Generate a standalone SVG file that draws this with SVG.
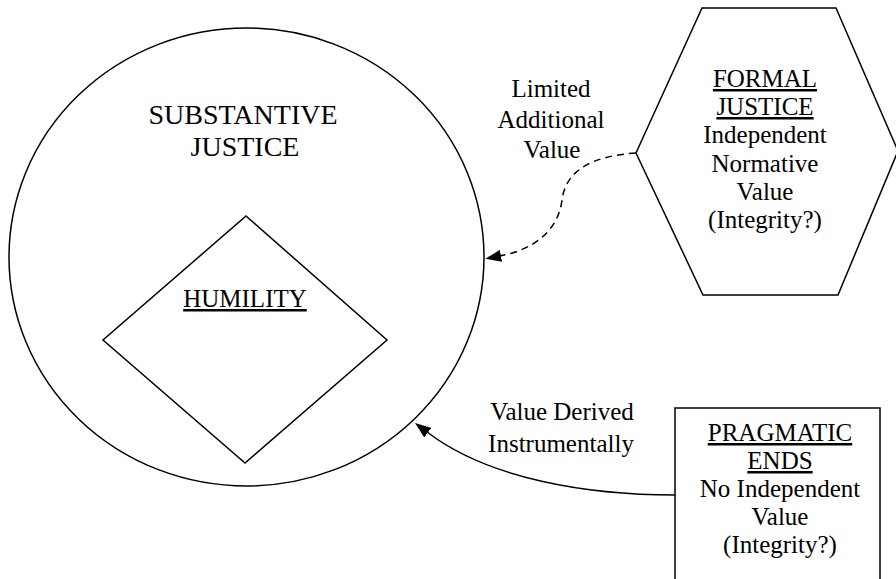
<svg xmlns="http://www.w3.org/2000/svg" width="896" height="579" viewBox="0 0 896 579">
  <style>
    .shape { fill: none; stroke: #000; stroke-width: 1.5; }
    .conn { fill: none; stroke: #000; stroke-width: 1.5; }
    .dash { stroke-dasharray: 7 5; }
    text { font-family: "Liberation Serif", "Times New Roman", serif; fill: #000; text-anchor: middle; }
    .big { font-size: 28px; }
    .lbl { font-size: 25px; }
    .u { text-decoration: underline; }
  </style>
  <defs>
    <marker id="arrow" viewBox="0 0 16 12" refX="1" refY="6" markerWidth="16" markerHeight="12" markerUnits="userSpaceOnUse" orient="auto">
      <path d="M0,0 L16,6 L0,12 z" fill="#000"/>
    </marker>
  </defs>
  <rect width="896" height="579" fill="#fff"/>

  <g id="substantive-justice">
    <ellipse class="shape" cx="246.5" cy="257" rx="237.5" ry="229"/>
    <text class="big" x="243" y="124">SUBSTANTIVE</text>
    <text class="big" x="245" y="156">JUSTICE</text>
  </g>

  <g id="humility">
    <polygon class="shape" points="246,216 387,340 245,463 103,340"/>
    <text class="lbl u" x="245" y="307">HUMILITY</text>
  </g>

  <g id="formal-justice">
    <polygon class="shape" points="702,8 836,8 898,151 838,295 703,295 636,153"/>
    <text class="lbl u" x="765" y="87">FORMAL</text>
    <text class="lbl u" x="765" y="115">JUSTICE</text>
    <text class="lbl" x="765" y="143">Independent</text>
    <text class="lbl" x="765" y="172">Normative</text>
    <text class="lbl" x="765" y="200">Value</text>
    <text class="lbl" x="765" y="228">(Integrity?)</text>
  </g>

  <g id="pragmatic-ends">
    <rect class="shape" x="675" y="408" width="205" height="200"/>
    <text class="lbl u" x="780" y="441">PRAGMATIC</text>
    <text class="lbl u" x="780" y="469">ENDS</text>
    <text class="lbl" x="780" y="497">No Independent</text>
    <text class="lbl" x="780" y="525">Value</text>
    <text class="lbl" x="780" y="553">(Integrity?)</text>
  </g>

  <g id="connectors">
    <path class="conn dash" d="M636,153 C592,156 566,170 562,200 C558,232 532,250 500,256" marker-end="url(#arrow)"/>
    <path class="conn" d="M675,495 C590,495 490,480 427,432" marker-end="url(#arrow)"/>
    <g id="connector-labels">
      <text class="lbl" x="551" y="97">Limited</text>
      <text class="lbl" x="551" y="128">Additional</text>
      <text class="lbl" x="552" y="158">Value</text>
      <text class="lbl" x="562" y="420">Value Derived</text>
      <text class="lbl" x="561" y="452">Instrumentally</text>
    </g>
  </g>
</svg>
